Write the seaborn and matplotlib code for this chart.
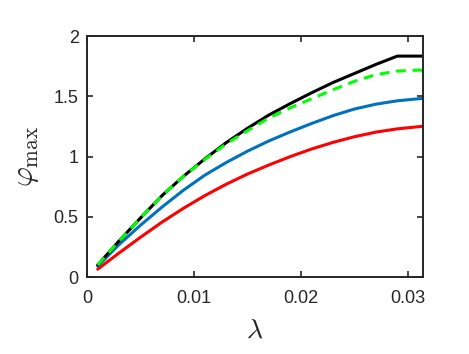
import numpy as np
import pandas as pd
import matplotlib
matplotlib.use("Agg")
import matplotlib.pyplot as plt
import seaborn as sns

# Données
lam = [0.001, 0.003, 0.005, 0.007, 0.009, 0.011, 0.013, 0.015, 0.017,
       0.019, 0.021, 0.023, 0.025, 0.027, 0.029, 0.031, 0.0314]
phi_black = [0.10, 0.30, 0.49, 0.675, 0.835, 0.98, 1.115, 1.235, 1.345,
             1.44, 1.53, 1.615, 1.69, 1.765, 1.834, 1.834, 1.834]
phi_green = [0.10, 0.30, 0.49, 0.675, 0.835, 0.975, 1.105, 1.215, 1.32,
             1.405, 1.48, 1.555, 1.625, 1.68, 1.71, 1.718, 1.715]
phi_blue = [0.09, 0.27, 0.43, 0.58, 0.72, 0.845, 0.95, 1.045, 1.13,
            1.205, 1.275, 1.34, 1.395, 1.435, 1.463, 1.48, 1.483]
phi_red = [0.065, 0.20, 0.33, 0.455, 0.57, 0.675, 0.77, 0.855, 0.93,
           1.00, 1.063, 1.118, 1.165, 1.203, 1.23, 1.248, 1.252]

x_ticks = [0, 0.01, 0.02, 0.03]
x_ticklabels = ["0", "0.01", "0.02", "0.03"]
y_ticks = [0, 0.5, 1, 1.5, 2]
y_ticklabels = ["0", "0.5", "1", "1.5", "2"]

sns.set_style("ticks")
plt.rcParams['font.family'] = ['Liberation Sans', 'DejaVu Sans']
plt.rcParams['mathtext.fontset'] = 'cm'

fig = plt.figure(figsize=(4.69, 3.54), dpi=100)
ax = fig.add_axes([0.1855, 0.2175, 0.7165, 0.6805])

# Ordre de tracé : rouge, bleu, noir, puis vert pointillé par-dessus
sns.lineplot(x=lam, y=phi_red, ax=ax, color="#FF0000", linewidth=2.2)
sns.lineplot(x=lam, y=phi_blue, ax=ax, color="#0072BD", linewidth=2.2)
sns.lineplot(x=lam, y=phi_black, ax=ax, color="black", linewidth=2.2)
sns.lineplot(x=lam, y=phi_green, ax=ax, color="#00FF00", linewidth=2.2,
             linestyle=(0, (3.2, 2.2)))

ax.set_xlim(0, 0.0314)
ax.set_ylim(0, 2)
ax.set_xticks(x_ticks)
ax.set_xticklabels(x_ticklabels)
ax.set_yticks(y_ticks)
ax.set_yticklabels(y_ticklabels)

for spine in ax.spines.values():
    spine.set_visible(True)
    spine.set_linewidth(1.4)
    spine.set_color("#262626")

ax.tick_params(direction="in", length=4, width=1.2, colors="#262626",
               labelsize=13, top=True, right=True, labelcolor="#262626")
ax.tick_params(axis="x", pad=9)
ax.tick_params(axis="y", pad=6)

ax.set_xlabel(r"$\lambda$", fontsize=20, labelpad=8)
ax.set_ylabel(r"$\varphi_{\rm max}$", fontsize=22, labelpad=9)

fig.savefig("out.png", dpi=100)
